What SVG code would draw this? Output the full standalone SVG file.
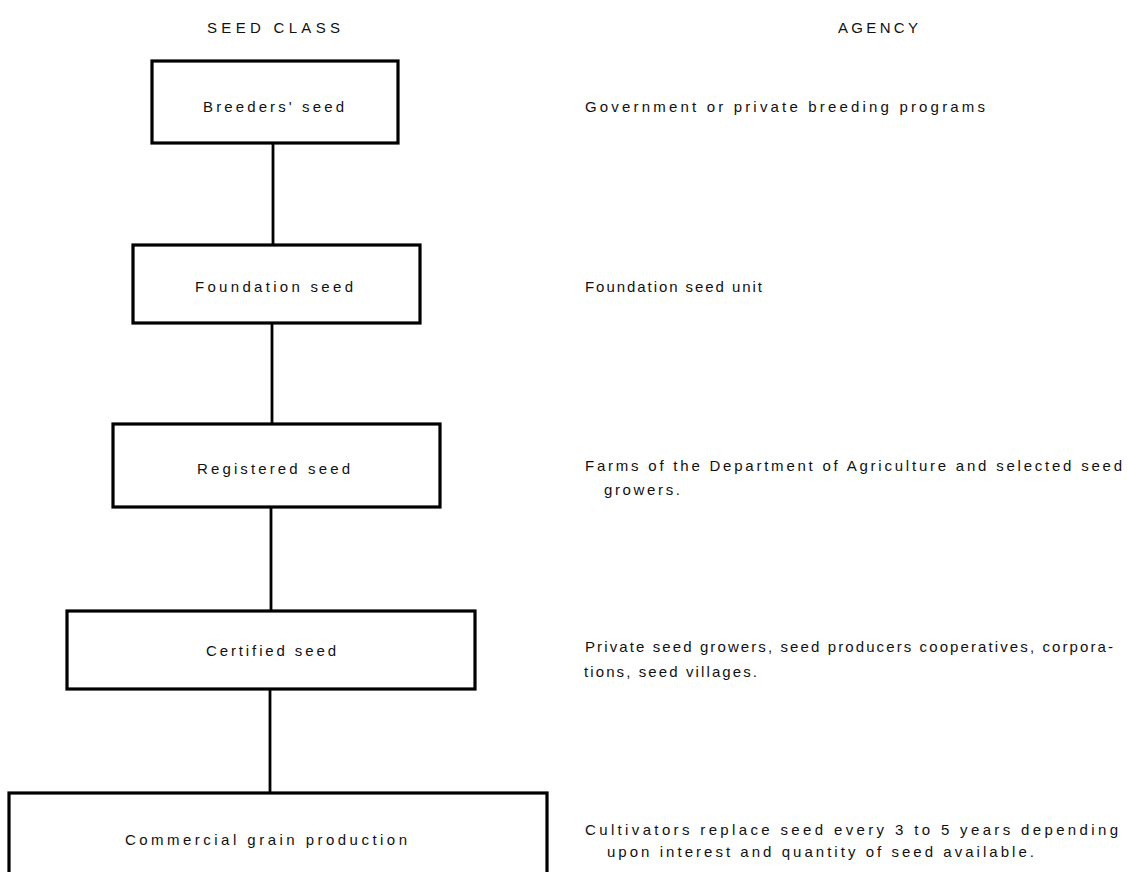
<svg xmlns="http://www.w3.org/2000/svg" width="1127" height="872" viewBox="0 0 1127 872">
<style>
text{font-family:"Liberation Sans",Arial,sans-serif;font-size:15px;fill:#111}
.box{fill:#fff;stroke:#000;stroke-width:3.2}
.conn{stroke:#000;stroke-width:2.8;fill:none}
</style>
<rect width="1127" height="872" fill="#fff"/>
<g id="headers">
<text x="207" y="33" textLength="133" lengthAdjust="spacing">SEED CLASS</text>
<text x="838" y="33" textLength="80" lengthAdjust="spacing">AGENCY</text>
</g>
<g id="connectors">
<line class="conn" x1="273" y1="143" x2="273" y2="245"/>
<line class="conn" x1="272" y1="323" x2="272" y2="424"/>
<line class="conn" x1="271" y1="507" x2="271" y2="611"/>
<line class="conn" x1="270" y1="689" x2="270" y2="793"/>
</g>
<g id="breeders">
<rect class="box" x="152" y="61" width="246" height="82"/>
<text x="203" y="112" textLength="141" lengthAdjust="spacing">Breeders' seed</text>
</g>
<g id="foundation">
<rect class="box" x="133" y="245" width="287" height="78"/>
<text x="195" y="292" textLength="158" lengthAdjust="spacing">Foundation seed</text>
</g>
<g id="registered">
<rect class="box" x="113" y="424" width="327" height="83"/>
<text x="197" y="474" textLength="153" lengthAdjust="spacing">Registered seed</text>
</g>
<g id="certified">
<rect class="box" x="67" y="611" width="408" height="78"/>
<text x="206" y="656" textLength="130" lengthAdjust="spacing">Certified seed</text>
</g>
<g id="commercial">
<rect class="box" x="9" y="793" width="538" height="100"/>
<text x="125" y="845" textLength="282" lengthAdjust="spacing">Commercial grain production</text>
</g>
<g id="agency-breeders">
<text x="585" y="112" textLength="400" lengthAdjust="spacing">Government or private breeding programs</text>
</g>
<g id="agency-foundation">
<text x="585" y="292" textLength="177" lengthAdjust="spacing">Foundation seed unit</text>
</g>
<g id="agency-registered">
<text x="585" y="471" textLength="537" lengthAdjust="spacing">Farms of the Department of Agriculture and selected seed</text>
<text x="604" y="495" textLength="76" lengthAdjust="spacing">growers.</text>
</g>
<g id="agency-certified">
<text x="585" y="652" textLength="528" lengthAdjust="spacing">Private seed growers, seed producers cooperatives, corpora-</text>
<text x="584" y="677" textLength="173" lengthAdjust="spacing">tions, seed villages.</text>
</g>
<g id="agency-commercial">
<text x="585" y="835" textLength="533" lengthAdjust="spacing">Cultivators replace seed every 3 to 5 years depending</text>
<text x="607" y="857" textLength="427" lengthAdjust="spacing">upon interest and quantity of seed available.</text>
</g>
</svg>
